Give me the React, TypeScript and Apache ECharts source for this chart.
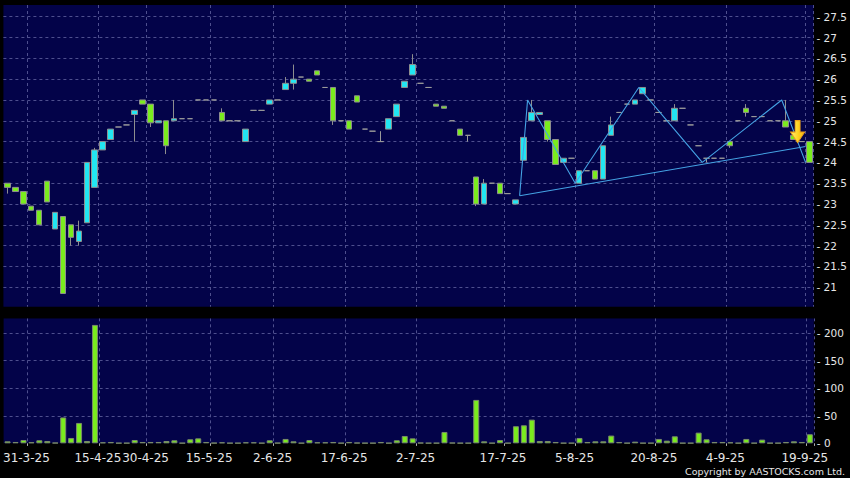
import React, { useEffect, useRef } from 'react';
import * as echarts from 'echarts';

const dates = [
  '26-3-25', '27-3-25', '28-3-25', '31-3-25', '1-4-25', '2-4-25', '3-4-25', '7-4-25', '8-4-25', '9-4-25',
  '10-4-25', '11-4-25', '15-4-25', '16-4-25', '17-4-25', '23-4-25', '25-4-25', '29-4-25', '30-4-25', '2-5-25',
  '6-5-25', '7-5-25', '8-5-25', '9-5-25', '13-5-25', '14-5-25', '15-5-25', '16-5-25', '20-5-25', '22-5-25',
  '23-5-25', '27-5-25', '29-5-25', '30-5-25', '2-6-25', '3-6-25', '4-6-25', '5-6-25', '6-6-25', '9-6-25',
  '11-6-25', '12-6-25', '16-6-25', '17-6-25', '18-6-25', '19-6-25', '20-6-25', '23-6-25', '24-6-25', '25-6-25',
  '26-6-25', '27-6-25', '2-7-25', '3-7-25', '4-7-25', '7-7-25', '8-7-25', '9-7-25', '10-7-25', '11-7-25',
  '14-7-25', '15-7-25', '16-7-25', '17-7-25', '18-7-25', '21-7-25', '22-7-25', '23-7-25', '25-7-25', '29-7-25',
  '31-7-25', '4-8-25', '5-8-25', '6-8-25', '7-8-25', '8-8-25', '11-8-25', '12-8-25', '13-8-25', '14-8-25',
  '18-8-25', '19-8-25', '20-8-25', '21-8-25', '22-8-25', '25-8-25', '26-8-25', '27-8-25', '29-8-25', '1-9-25',
  '3-9-25', '4-9-25', '5-9-25', '8-9-25', '9-9-25', '10-9-25', '11-9-25', '12-9-25', '15-9-25', '16-9-25',
  '18-9-25', '19-9-25',
];

const labelDates = [
  '31-3-25', '15-4-25', '30-4-25', '15-5-25', '2-6-25', '17-6-25',
  '2-7-25', '17-7-25', '5-8-25', '20-8-25', '4-9-25', '19-9-25',
];

const opens = [
  23.5, 23.4, 23.3, 22.95, 22.85, 23.55, 22.4, 22.7, 22.5, 22.1,
  22.55, 23.4, 24.3, 24.55, 24.85, 24.9, 25.15, 25.5, 25.4, 24.95,
  25.0, 25.0, 25.05, 25.05, 25.5, 25.5, 25.5, 25.2, 25.0, 25.0,
  24.5, 25.25, 25.25, 25.4, 25.5, 25.75, 25.9, 26.05, 26.0, 26.2,
  25.8, 25.8, 25.0, 25.0, 25.6, 24.8, 24.75, 24.5, 24.8, 25.1,
  25.8, 26.1, 25.9, 25.8, 25.4, 25.35, 25.0, 24.8, 24.65, 23.65,
  23.0, 23.5, 23.5, 23.25, 23.0, 24.05, 25.0, 25.15, 25.0, 24.55,
  24.0, 24.1, 23.5, 23.8, 23.8, 23.6, 24.65, 25.2, 25.4, 25.4,
  25.65, 25.5, 25.2, 25.0, 25.0, 25.3, 24.9, 24.4, 24.1, 24.1,
  24.1, 24.5, 25.0, 25.3, 25.1, 25.1, 25.0, 25.0, 25.0, 24.65,
  24.5, 24.5,
];

const closes = [
  23.4, 23.3, 23.0, 22.85, 22.5, 23.05, 22.8, 20.85, 22.2, 22.35,
  24.0, 24.3, 24.5, 24.8, 24.85, 24.9, 25.25, 25.4, 24.95, 25.0,
  24.4, 25.05, 25.05, 25.05, 25.5, 25.5, 25.5, 25.0, 25.0, 25.0,
  24.8, 25.25, 25.25, 25.5, 25.5, 25.9, 26.0, 26.05, 25.95, 26.1,
  25.8, 25.0, 25.0, 24.8, 25.45, 24.8, 24.75, 24.5, 25.05, 25.4,
  25.95, 26.35, 25.9, 25.8, 25.35, 25.3, 25.0, 24.65, 24.65, 23.0,
  23.5, 23.5, 23.25, 23.25, 23.1, 24.6, 25.2, 25.2, 24.55, 23.95,
  24.1, 24.1, 23.8, 23.8, 23.6, 24.4, 24.9, 25.2, 25.4, 25.5,
  25.8, 25.5, 25.2, 25.0, 25.3, 25.3, 24.9, 24.4, 24.1, 24.1,
  24.1, 24.4, 25.0, 25.2, 25.1, 25.1, 25.0, 25.0, 24.85, 24.55,
  24.5, 24.0,
];

const lows = [
  23.25, 23.3, 23.0, 22.85, 22.5, 23.05, 22.4, 20.85, 22.0, 22.0,
  22.55, 23.4, 24.3, 24.55, 24.85, 24.9, 24.5, 25.4, 24.85, 24.95,
  24.2, 25.0, 25.05, 25.05, 25.5, 25.5, 25.5, 25.0, 25.0, 25.0,
  24.5, 25.25, 25.25, 25.4, 25.5, 25.75, 25.75, 26.05, 25.95, 26.1,
  25.8, 24.9, 25.0, 24.8, 25.45, 24.8, 24.75, 24.5, 24.8, 25.1,
  25.8, 26.1, 25.9, 25.8, 25.35, 25.3, 25.0, 24.65, 24.5, 22.95,
  23.0, 23.5, 23.25, 23.25, 23.0, 24.05, 25.0, 25.15, 24.5, 23.95,
  24.0, 24.1, 23.5, 23.8, 23.6, 23.6, 24.65, 25.2, 25.4, 25.4,
  25.65, 25.5, 25.2, 25.0, 25.0, 25.3, 24.9, 24.4, 24.0, 24.1,
  24.1, 24.35, 25.0, 25.1, 25.1, 25.1, 25.0, 25.0, 24.85, 24.55,
  24.5, 24.0,
];

const highs = [
  23.5, 23.4, 23.3, 22.95, 22.85, 23.55, 22.8, 22.7, 22.5, 22.6,
  24.0, 24.35, 24.5, 24.8, 24.85, 24.9, 25.25, 25.5, 25.4, 25.0,
  25.0, 25.5, 25.05, 25.05, 25.5, 25.5, 25.5, 25.3, 25.0, 25.0,
  24.8, 25.25, 25.25, 25.5, 25.5, 26.05, 26.35, 26.05, 26.0, 26.2,
  25.8, 25.8, 25.0, 25.0, 25.6, 24.8, 24.75, 24.75, 25.05, 25.4,
  25.95, 26.6, 25.9, 25.8, 25.4, 25.35, 25.0, 24.8, 24.65, 23.65,
  23.6, 23.5, 23.5, 23.25, 23.1, 24.6, 25.5, 25.2, 25.0, 24.55,
  24.1, 24.1, 23.8, 23.8, 23.8, 24.4, 25.1, 25.2, 25.4, 25.5,
  25.8, 25.5, 25.2, 25.0, 25.4, 25.3, 24.9, 24.4, 24.1, 24.1,
  24.1, 24.5, 25.0, 25.4, 25.1, 25.1, 25.0, 25.0, 25.5, 24.65,
  24.5, 24.5,
];

const volumes = [
  3.6, 2.4, 6, 2, 5.5, 4.2, 1, 47, 9.7, 37,
  4.2, 215, 1.8, 2.4, 0.6, 0.6, 6, 2.4, 2.4, 2.4,
  4.2, 5.5, 0.6, 7.3, 9, 2.4, 0.8, 1.8, 0.6, 0.6,
  1.8, 1.8, 0.6, 5.5, 0.8, 7.9, 3.6, 0.6, 6, 1.8,
  1.8, 2.4, 0.6, 2.4, 1, 0.6, 0.6, 2.4, 0.6, 5.5,
  13.3, 9, 1, 0.6, 0.6, 20.6, 1, 0.6, 0.6, 78.8,
  3.6, 0.6, 6, 0.6, 31, 32.7, 43, 4.2, 4.2, 2.4,
  0.6, 0.6, 9.7, 2.4, 3.6, 3.6, 14, 2.4, 0.6, 3,
  0.6, 0.6, 7.9, 4.8, 12.7, 0.6, 0.6, 19.4, 7.3, 2.4,
  2.4, 1.8, 0.6, 7.9, 0.6, 6.7, 0.6, 0.6, 2.4, 3.6,
  2.4, 16.4,
];

// pattern lines (x in slot units, y in price)
const zigzagX = [64.5, 65.5, 71.5, 79.5, 87.5, 97.5, 100.5];
const zigzagY = [23.2, 25.5, 23.5, 25.8, 24.0, 25.5, 24.0];
const supportX = [64.5, 100.5];
const supportY = [23.2, 24.38];
const arrowX = [99.5];
const arrowY = [24.74];

const NAVY = '#030349';
const CYAN = '#22e6f2';
const LIME = '#7aec1e';
const GRID_LINE = '#4e4f8e';
const TEXT = '#e6e6e6';
const FONT = 'DejaVu Sans';

const isLabel = (_i: number, v: string) => labelDates.includes(v);

export default function App() {
  const ref = useRef<HTMLDivElement>(null);
  useEffect(() => {
    if (!ref.current) return;
    const chart = echarts.init(ref.current, undefined, { renderer: 'svg' });
    const candleData = dates.map((_, i) => [opens[i], closes[i], lows[i], highs[i]]);
    const splitStyle = { color: GRID_LINE, width: 1, type: [3, 3] as number[] };
    const priceFmt = (v: number) => {
      const r = Math.round(v * 2) / 2;
      if (Math.abs(v - r) > 1e-6 || r < 21 || r > 27.5) return '';
      return '- ' + String(r);
    };
    const volFmt = (v: number) => {
      const r = Math.round(v / 50) * 50;
      if (Math.abs(v - r) > 1e-6 || r > 200) return '';
      return '- ' + String(r);
    };
    chart.setOption({
      animation: false,
      backgroundColor: '#000000',
      textStyle: { fontFamily: FONT },
      grid: [
        { left: 3.4, right: 36.2, top: 5, height: 303.1, show: true, backgroundColor: NAVY, borderWidth: 0 },
        { left: 3.4, right: 36.2, top: 318.3, height: 125, show: true, backgroundColor: NAVY, borderWidth: 0 },
      ],
      xAxis: [
        {
          type: 'category', gridIndex: 0, data: dates, boundaryGap: true,
          axisLine: { show: false }, axisTick: { show: false }, axisLabel: { show: false },
          splitLine: { show: true, interval: isLabel, lineStyle: splitStyle },
        },
        {
          type: 'category', gridIndex: 1, data: dates, boundaryGap: true, offset: 3.4,
          axisLine: { show: false },
          axisTick: { show: true, interval: isLabel, length: 2.6, lineStyle: { color: '#b0b0b0' } },
          axisLabel: {
            interval: isLabel, color: TEXT, fontFamily: FONT, fontSize: 12, margin: 5,
            padding: [0, 10, 0, 0], hideOverlap: false,
          },
          splitLine: { show: true, interval: isLabel, lineStyle: splitStyle },
        },
        { type: 'value', gridIndex: 0, min: -0.5, max: 101.5, show: false },
      ],
      yAxis: [
        {
          type: 'value', gridIndex: 0, position: 'right', min: 20.5, max: 27.781, interval: 0.5,
          axisLine: { show: false }, axisTick: { show: false },
          axisLabel: { formatter: priceFmt, color: TEXT, fontFamily: FONT, fontSize: 10.5, margin: 3, showMaxLabel: false },
          splitLine: { show: true, lineStyle: splitStyle, showMaxLine: false },
        },
        {
          type: 'value', gridIndex: 1, position: 'right', min: 0, max: 227, interval: 50,
          axisLine: { show: false }, axisTick: { show: false },
          axisLabel: { formatter: volFmt, color: TEXT, fontFamily: FONT, fontSize: 10.5, margin: 3, showMaxLabel: false },
          splitLine: { show: true, lineStyle: splitStyle, showMaxLine: false, showMinLine: false },
        },
      ],
      series: [
        {
          type: 'candlestick', xAxisIndex: 0, yAxisIndex: 0, data: candleData, barWidth: 6,
          itemStyle: {
            color: CYAN, color0: LIME, borderColor: '#8e8e8e', borderColor0: '#8e8e8e',
            borderColorDoji: '#9a9a9a', borderWidth: 1,
          },
          z: 3,
        },
        {
          type: 'line', xAxisIndex: 2, yAxisIndex: 0,
          data: zigzagX.map((x, i) => [x, zigzagY[i]]),
          symbol: 'none', lineStyle: { color: '#45a3e4', width: 1.1 }, z: 4, silent: true,
        },
        {
          type: 'line', xAxisIndex: 2, yAxisIndex: 0,
          data: supportX.map((x, i) => [x, supportY[i]]),
          symbol: 'none', lineStyle: { color: '#45a3e4', width: 1.1 }, z: 4, silent: true,
        },
        {
          type: 'scatter', xAxisIndex: 2, yAxisIndex: 0,
          data: arrowX.map((x, i) => [x, arrowY[i]]),
          symbol: 'path://M4.5,0L9.5,0L9.5,11.5L14,11.5L7,22L0,11.5L4.5,11.5Z',
          symbolSize: [14, 22],
          itemStyle: {
            color: new echarts.graphic.LinearGradient(0, 0, 1, 0, [
              { offset: 0, color: '#fff07a' },
              { offset: 0.55, color: '#ffd21e' },
              { offset: 1, color: '#f5b414' },
            ]),
            borderColor: '#eea21a', borderWidth: 1, opacity: 1,
          },
          z: 6, silent: true,
        },
        {
          type: 'bar', xAxisIndex: 1, yAxisIndex: 1, data: volumes, barWidth: 6,
          itemStyle: { color: LIME, borderColor: '#7a8a6a', borderWidth: 1 },
        },
      ],
      graphic: [
        {
          type: 'rect', z: 100, silent: true,
          shape: { x: 0, y: 306.7, width: 850, height: 11.6 },
          style: { fill: '#000000' },
        },
        {
          type: 'text', z: 100, silent: true, x: 845, y: 471,
          style: {
            text: 'Copyright by AASTOCKS.com Ltd.', fill: TEXT, font: `9.5px "${FONT}"`,
            textAlign: 'right', textVerticalAlign: 'middle',
          },
        },
      ],
    });
    return () => chart.dispose();
  }, []);
  return <div ref={ref} style={{ position: 'fixed', left: 0, top: 0, width: 850, height: 478 }} />;
}
